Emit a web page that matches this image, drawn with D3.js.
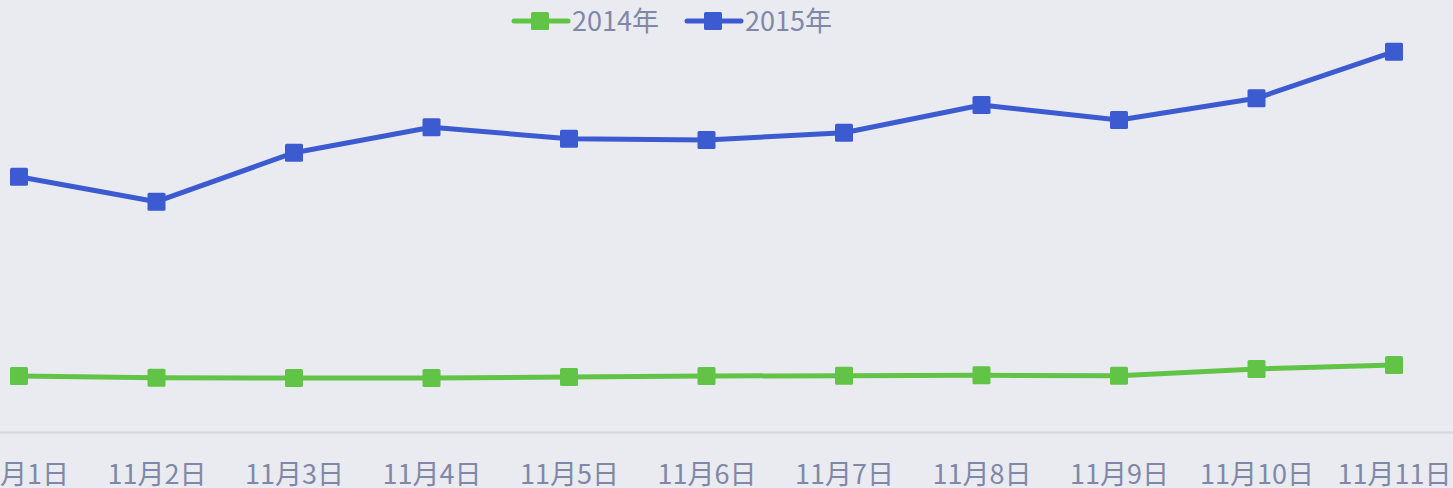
<!DOCTYPE html>
<html><head><meta charset="utf-8">
<script src="https://cdn.jsdelivr.net/npm/d3@7"></script>
<style>
html,body{margin:0;padding:0;background:#eaebf0;overflow:hidden;}
svg{display:block;}
</style></head>
<body>
<svg id="chart" width="1453" height="488"></svg>
<script>
const categories = ["11月1日","11月2日","11月3日","11月4日","11月5日","11月6日","11月7日","11月8日","11月9日","11月10日","11月11日"];
const seriesNames = ["2014年","2015年"];
const values2014 = [56, 54.3, 54, 54, 55, 56, 56.3, 56.7, 56.3, 63, 67];
const values2015 = [255.3, 230.3, 279.3, 304.7, 293.3, 292, 299.3, 327, 312, 333.7, 380.3];
const colors = ["#62c446", "#3d5bd1"];

const W = 1453, H = 488;
const svg = d3.select("#chart");
svg.append("rect").attr("width", W).attr("height", H).attr("fill", "#eaebf0");

const x = d3.scalePoint().domain(categories).range([19, 1394]);
const y = d3.scaleLinear().domain([0, 400]).range([432, 32]);

// x axis
const axis = svg.append("g").attr("transform", `translate(0,${y(0)})`)
  .call(d3.axisBottom(x).tickSize(0).tickPadding(0));
axis.select(".domain").remove();
axis.selectAll("text")
  .attr("y", 52).attr("dy", 0)
  .attr("fill", "#8088a8")
  .style("font-family", "'Noto Sans CJK SC', 'Noto Sans', sans-serif")
  .style("font-size", "27px");
svg.append("line").attr("x1", 0).attr("x2", W).attr("y1", y(0) + 0.5).attr("y2", y(0) + 0.5)
  .attr("stroke", "#d6d7dc").attr("stroke-width", 2);

const series = [values2014, values2015];
const line = d3.line().x((d, i) => x(categories[i])).y(d => y(d));
series.forEach((vals, si) => {
  const g = svg.append("g");
  g.append("path").datum(vals).attr("d", line)
    .attr("fill", "none").attr("stroke", colors[si]).attr("stroke-width", 5)
    .attr("stroke-linejoin", "round");
  g.selectAll("rect").data(vals).join("rect")
    .attr("x", (d, i) => x(categories[i]) - 9)
    .attr("y", d => y(d) - 9)
    .attr("width", 18).attr("height", 18).attr("rx", 1.5)
    .attr("fill", colors[si]);
});

// legend
const legendX = [512, 685];
seriesNames.forEach((name, si) => {
  const g = svg.append("g").attr("transform", `translate(${legendX[si]},21)`);
  g.append("line").attr("x1", 2).attr("x2", 56).attr("y1", 0).attr("y2", 0)
    .attr("stroke", colors[si]).attr("stroke-width", 5).attr("stroke-linecap", "round");
  g.append("rect").attr("x", 19).attr("y", -9).attr("width", 18).attr("height", 18).attr("rx", 1.5)
    .attr("fill", colors[si]);
  g.append("text").attr("x", 60).attr("y", 0).attr("dy", "0.36em")
    .attr("fill", "#8088a8")
    .style("font-family", "'Noto Sans CJK SC', 'Noto Sans', sans-serif")
    .style("font-size", "27px")
    .text(name);
});
</script>
</body></html>
